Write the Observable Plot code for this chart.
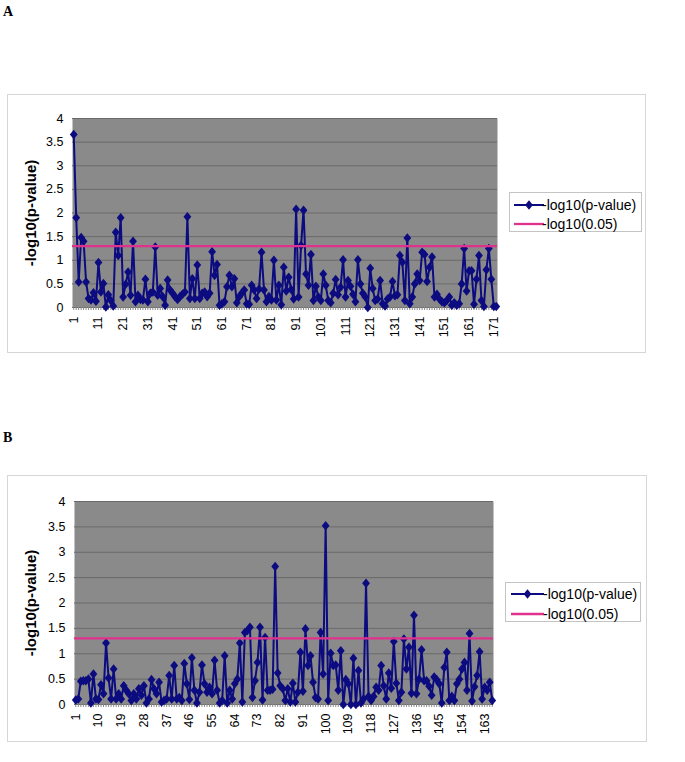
<!DOCTYPE html>
<html>
<head>
<meta charset="utf-8">
<script src="https://cdn.jsdelivr.net/npm/d3@7"></script>
<script src="https://cdn.jsdelivr.net/npm/@observablehq/plot@0.6"></script>
<style>
  body { margin:0; background:#fff; width:685px; height:762px; position:relative; overflow:hidden;
         font-family: Arial, "Liberation Sans", sans-serif; }
  .plabel { position:absolute; left:3px; font-family:"Liberation Serif","Times New Roman",serif;
            font-weight:bold; font-size:14px; line-height:14px; }
  .frame { position:absolute; border:1px solid #d6d6d6; box-sizing:border-box; }
  .chart { position:absolute; }
  .legend { position:absolute; border:1px solid #c4c4c4; box-sizing:border-box; background:#fff; }
  .legend .sw { position:absolute; }
  .legend .tx { position:absolute; font-size:14px; line-height:14px; white-space:nowrap; color:#000; }
</style>
</head>
<body>
<script>
// ---------- data ----------
const seriesName = "-log10(p-value)";
const thresholdName = "-log10(0.05)";
const threshold = 1.30103;          // -log10(0.05)
const yTicks = [0, 0.5, 1, 1.5, 2, 2.5, 3, 3.5, 4];

const valuesA = [
  3.66,1.9,0.54,1.48,1.4,0.54,0.19,0.16,0.31,0.13,
  0.95,0.33,0.51,0.01,0.27,0.15,0.03,1.59,1.1,1.9,
  0.22,0.49,0.75,0.26,1.4,0.12,0.26,0.17,0.16,0.6,
  0.12,0.3,0.33,1.28,0.26,0.4,0.23,0.05,0.58,0.37,
  0.3,0.23,0.17,0.23,0.28,0.33,1.92,0.19,0.61,0.19,
  0.9,0.19,0.3,0.33,0.23,0.3,1.18,0.68,0.91,0.05,
  0.08,0.12,0.44,0.68,0.44,0.61,0.1,0.23,0.3,0.37,
  0.08,0.07,0.47,0.37,0.19,0.39,1.17,0.37,0.12,0.23,
  0.16,1.0,0.16,0.47,0.06,0.85,0.35,0.64,0.38,0.18,
  2.08,0.22,1.31,2.06,0.71,0.47,1.12,0.15,0.45,0.22,
  0.15,0.71,0.47,0.15,0.1,0.3,0.59,0.27,0.43,1.01,
  0.22,0.57,0.45,0.28,0.12,1.01,0.5,0.3,0.22,0.0,
  0.83,0.4,0.15,0.18,0.57,0.08,0.03,0.18,0.22,0.55,
  0.25,0.27,1.1,0.96,0.15,1.47,0.08,0.22,0.5,0.71,
  0.57,1.17,1.12,0.55,0.85,1.07,0.22,0.28,0.18,0.12,
  0.1,0.15,0.22,0.05,0.1,0.05,0.08,0.5,1.25,0.35,
  0.78,0.78,0.07,0.6,1.1,0.15,0.02,0.8,1.25,0.6,
  0.02,0.02
];
const xTickLabelsA = [1,11,21,31,41,51,61,71,81,91,101,111,121,131,141,151,161,171];

const valuesB = [
  0.09,0.11,0.46,0.47,0.47,0.5,0.03,0.6,0.11,0.1,
  0.39,0.21,1.21,0.52,0.11,0.7,0.11,0.21,0.11,0.37,
  0.28,0.21,0.08,0.21,0.11,0.31,0.18,0.37,0.03,0.11,
  0.49,0.31,0.21,0.44,0.05,0.08,0.11,0.57,0.11,0.77,
  0.11,0.14,0.08,0.81,0.41,0.1,0.92,0.28,0.03,0.24,
  0.78,0.41,0.24,0.34,0.21,0.87,0.28,0.03,0.08,0.96,
  0.03,0.28,0.11,0.41,0.5,1.21,0.05,1.42,1.46,1.52,
  0.14,0.47,0.83,1.52,0.09,1.32,0.28,0.28,0.3,2.72,
  0.62,0.37,0.31,0.08,0.31,0.05,0.42,0.05,0.24,1.03,
  0.26,1.49,0.77,0.96,0.44,0.14,0.11,1.42,0.6,3.52,
  0.08,1.01,0.77,0.78,0.28,1.06,0.0,0.49,0.41,0.0,
  0.91,0.0,0.67,0.03,0.11,2.39,0.16,0.08,0.16,0.34,
  0.28,0.77,0.37,0.11,0.62,0.32,1.24,0.42,0.08,0.24,
  1.29,0.7,1.13,0.22,1.76,0.21,0.5,1.08,0.47,0.47,
  0.36,0.18,0.54,0.49,0.41,0.03,0.73,1.03,0.08,0.16,
  0.08,0.41,0.5,0.7,0.83,0.28,1.4,0.07,0.35,0.57,
  1.04,0.11,0.34,0.28,0.44,0.08
];
const xTickLabelsB = [1,10,19,28,37,46,55,64,73,82,91,100,109,118,127,136,145,154,163];

// ---------- style ----------
const navy = "#0c0c80", pink = "#e0328c", plotBg = "#8a8a8a", gridCol = "#6a6a6a";

// Excel-like diamond, slightly taller than wide (the original picture is stretched)
const tallDiamond = {
  draw(ctx, size) {
    const r = Math.sqrt(size / Math.PI);
    ctx.moveTo(0, -r * 1.22); ctx.lineTo(r, 0); ctx.lineTo(0, r * 1.22); ctx.lineTo(-r, 0); ctx.closePath();
  }
};

function makeChart(values, xTickLabels, dims) {
  const cats = values.map((_, k) => k + 1);
  const data = values.map((v, k) => ({i: k + 1, v}));
  return Plot.plot({
    width: dims.width, height: dims.height,
    marginLeft: dims.ml, marginRight: dims.mr, marginTop: dims.mt, marginBottom: dims.mb,
    style: {fontFamily: "Arial, 'Liberation Sans', sans-serif", fontSize: "12.5px", color: "#000",
            background: "transparent", overflow: "visible"},
    x: {type: "point", domain: cats, padding: 0.5},
    y: {domain: [0, 4]},
    marks: [
      Plot.frame({fill: plotBg}),
      Plot.gridY({ticks: yTicks, stroke: gridCol, strokeOpacity: 1}),
      Plot.axisY({ticks: yTicks, tickSize: 0, tickPadding: 9, tickFormat: d => String(d), label: null}),
      Plot.axisX({ticks: cats, tickSize: 3, tickFormat: () => "", label: null, stroke: "#8a8a8a"}),
      Plot.axisX({ticks: xTickLabels, tickSize: 0, tickPadding: 9, tickRotate: -90, label: null}),
      Plot.text([seriesName], {frameAnchor: "left", textAnchor: "middle", rotate: -90, dx: dims.titleDx,
                               fontWeight: "bold", fontSize: 15}),
      Plot.line(data, {x: "i", y: "v", stroke: navy, strokeWidth: 2}),
      Plot.dot(data, {x: "i", y: "v", symbol: tallDiamond, r: 3.9, fill: navy}),
      Plot.ruleY([threshold], {stroke: pink, strokeWidth: 2.3})
    ]
  });
}

function addDiv(cls, css, html) {
  const d = document.createElement("div");
  d.className = cls;
  Object.assign(d.style, css);
  if (html != null) d.innerHTML = html;
  document.body.appendChild(d);
  return d;
}

function addLegend(box, ent) {
  const lg = addDiv("legend", {left: box.left + "px", top: box.top + "px", width: box.w + "px", height: box.h + "px"});
  const entries = [
    {name: seriesName, color: navy, marker: true, cy: ent.cy1},
    {name: thresholdName, color: pink, marker: false, cy: ent.cy2}
  ];
  for (const e of entries) {
    const L = ent.x2 - ent.x1;
    const sw = document.createElementNS("http://www.w3.org/2000/svg", "svg");
    sw.setAttribute("width", L); sw.setAttribute("height", 12);
    sw.setAttribute("class", "sw");
    sw.style.left = ent.x1 + "px"; sw.style.top = (e.cy - 6) + "px";
    sw.innerHTML = `<line x1="0" x2="${L}" y1="6" y2="6" stroke="${e.color}" stroke-width="${e.marker ? 2 : 2.3}"/>` +
      (e.marker ? `<path d="M${L/2},1.2L${L/2+3.9},6L${L/2},10.8L${L/2-3.9},6Z" fill="${e.color}"/>` : "");
    lg.appendChild(sw);
    const t = document.createElement("div");
    t.className = "tx";
    t.textContent = e.name;
    t.style.left = ent.tx + "px"; t.style.top = (e.cy - 7) + "px";
    lg.appendChild(t);
  }
}

// ---------- panel A ----------
addDiv("plabel", {top: "5px"}, "A");
addDiv("frame", {left: "7px", top: "94px", width: "639px", height: "259px"});
const cA = makeChart(valuesA, xTickLabelsA, {width: 638, height: 258, ml: 65, mr: 148, mt: 24, mb: 45, titleDx: -41});
cA.classList.add("chart"); cA.style.left = "7px"; cA.style.top = "94px"; cA.style.position = "absolute";
document.body.appendChild(cA);
addLegend({left: 509, top: 192, w: 133, h: 40}, {x1: 4, x2: 34, tx: 32, cy1: 12, cy2: 31});

// ---------- panel B ----------
addDiv("plabel", {top: "431px"}, "B");
addDiv("frame", {left: "7px", top: "475px", width: "640px", height: "267px"});
const cB = makeChart(valuesB, xTickLabelsB, {width: 639, height: 266, ml: 67, mr: 153, mt: 26, mb: 37, titleDx: -43});
cB.classList.add("chart"); cB.style.left = "7px"; cB.style.top = "475px"; cB.style.position = "absolute";
document.body.appendChild(cB);
addLegend({left: 505, top: 582, w: 136, h: 40}, {x1: 5, x2: 38, tx: 37, cy1: 11, cy2: 31});
</script>
</body>
</html>
